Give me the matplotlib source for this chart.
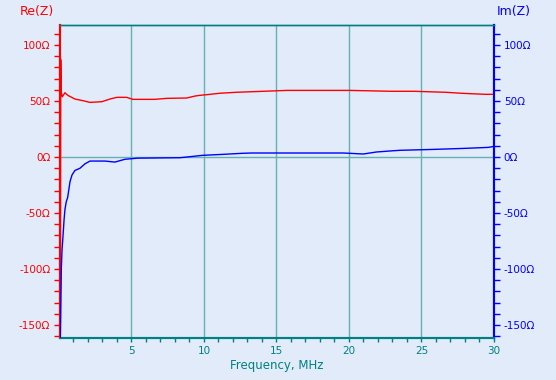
import matplotlib
matplotlib.use("Agg")
import matplotlib.pyplot as plt
from matplotlib.ticker import MultipleLocator, FuncFormatter

# frequency (MHz) / impedance (ohm)
re_freq = [0.08, 0.1, 0.12, 0.15, 0.23, 0.41, 0.62, 1.1, 1.66, 2.14, 2.95, 3.52, 3.98,
           4.67, 5.1, 6.6, 7.43, 8.8, 9.4, 9.66, 10.42, 11.06, 12.2, 14.1, 15.7,
           20.07, 22.9, 24.5, 26.7, 27.8, 29.4, 30.0]
re_vals = [-137, -110, 87, 58, 53.8, 57.4, 55, 51.8, 50.3, 48.8, 49.4, 51.8, 53.3,
           53.3, 51.5, 51.5, 52.4, 52.7, 54.5, 55, 56, 56.9, 57.8, 58.7, 59.5,
           59.5, 58.7, 58.7, 57.8, 56.9, 56, 56]

im_freq = [0.08, 0.12, 0.14, 0.16, 0.21, 0.28, 0.35, 0.41, 0.5, 0.6, 0.76, 0.9, 1.1,
           1.45, 1.8, 2.14, 3.17, 3.86, 4.55, 5.45, 8.35, 9.26, 9.88, 11.33, 12.6,
           13.3, 19.6, 20.99, 21.9, 22.83, 23.5, 25.8, 27.9, 29.6, 30.0]
im_vals = [-170, -140, -120, -100, -83, -70, -56, -47, -40, -36, -22, -16, -12,
           -10, -6, -3.6, -3.6, -4.5, -2, -1, -0.6, 0.6, 1.5, 2.4, 3.3,
           3.6, 3.6, 2.7, 4.5, 5.4, 6, 6.8, 7.7, 8.6, 9.5]

bg = "#E1EBFA"
teal = "#008080"
grid_col = "#66B2B2"

fig = plt.figure(figsize=(5.56, 3.80), dpi=100, facecolor=bg)
ax = fig.add_axes([60 / 556, 1 - 338 / 380, 434 / 556, 313 / 380], facecolor=bg)
ax2 = ax.twinx()

ax.plot(re_freq, re_vals, color="#FF0000", lw=1.0, zorder=3)
ax2.plot(im_freq, im_vals, color="#0000FF", lw=1.0, zorder=3)

xmin, xmax = 0.07, 30.0
ymin, ymax = -161.6, 117.9
for a in (ax, ax2):
    a.set_xlim(xmin, xmax)
    a.set_ylim(ymin, ymax)
    a.yaxis.set_major_locator(MultipleLocator(50))
    a.yaxis.set_minor_locator(MultipleLocator(10))
    a.yaxis.set_major_formatter(FuncFormatter(lambda v, p: f"{int(v)}\u03a9"))

ax.xaxis.set_major_locator(MultipleLocator(5))
ax.xaxis.set_minor_locator(MultipleLocator(1))
ax.set_xticks([5, 10, 15, 20, 25, 30])

# grid: vertical lines at major x ticks, horizontal at zero
for xv in [5, 10, 15, 20, 25]:
    ax.axvline(xv, color=grid_col, lw=1.0, zorder=1)
ax.axhline(0, color=grid_col, lw=1.0, zorder=1)

ax.tick_params(axis="x", which="both", colors=teal, labelcolor=teal, labelsize=7.5,
               length=3, width=1, direction="out", pad=3)
ax.tick_params(axis="y", which="both", colors="#FF0000", labelcolor="#FF0000",
               labelsize=7.5, length=4, width=1, direction="out", pad=3)
ax2.tick_params(axis="y", which="both", colors="#0000FF", labelcolor="#0000FF",
                labelsize=7.5, length=4, width=1, direction="out", pad=3)

for a in (ax, ax2):
    a.spines["top"].set_color(teal)
    a.spines["bottom"].set_color(teal)
    a.spines["left"].set_color("#FF0000")
    a.spines["right"].set_color("#0000FF")
    for s in a.spines.values():
        s.set_linewidth(1.5)
    a.spines["top"].set_linewidth(1.0)

ax.set_xlabel("Frequency, MHz", color=teal, fontsize=8.5, labelpad=2)
fig.text(20 / 556, 1 - 12 / 380, "Re(Z)", color="#FF0000", fontsize=9, va="center", ha="left")
fig.text(497 / 556, 1 - 12 / 380, "Im(Z)", color="#0000FF", fontsize=9, va="center", ha="left")

fig.savefig("out.png", dpi=100, facecolor=bg)
